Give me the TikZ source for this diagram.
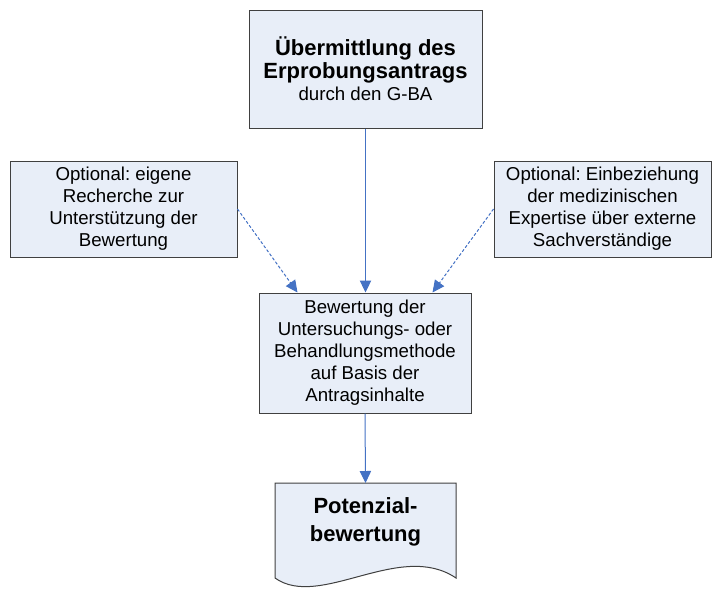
\documentclass[tikz,border=0pt]{standalone}
\usepackage{fontspec}
\setmainfont{Liberation Sans}
\usetikzlibrary{arrows.meta}
\frenchspacing

\definecolor{boxfill}{RGB}{232,238,248}
\definecolor{boxline}{RGB}{64,64,64}
\definecolor{arrowblue}{RGB}{68,114,196}

\begin{document}
\begin{tikzpicture}[x=0.75pt,y=0.75pt,yscale=-1,xscale=1,
	box/.style={draw=boxline, fill=boxfill, line width=0.75pt, align=center, inner sep=0pt, font=\fontsize{14}{16.5}\selectfont},
	flow/.style={draw=arrowblue, line width=0.75pt, -{Triangle[length=9pt,width=8.5pt]}},
	optflow/.style={flow, dash pattern=on 2.25pt off 1.5pt}]
\useasboundingbox (0,0) rectangle (712,589);

%Shape: Rectangle [top]
	\node [box, minimum width=174.75pt, minimum height=88.5pt] (antrag) at (365.5,69) {{\fontsize{16.5}{20}\selectfont\bfseries Übermittlung des}\\[1pt]{\fontsize{16.5}{20}\selectfont\bfseries Erprobungsantrags}\\durch den G-BA};
%Shape: Rectangle [left]
	\node [box, minimum width=170.25pt, minimum height=72pt] (recherche) at (123.5,209) {Optional: eigene\\Recherche zur\\Unterstützung der\\Bewertung};
%Shape: Rectangle [right]
	\node [box, minimum width=162.75pt, minimum height=72pt] (experten) at (602.5,209) {Optional: Einbeziehung\\der medizinischen\\Expertise über externe\\Sachverständige};
%Shape: Rectangle [middle]
	\node [box, minimum width=159pt, minimum height=90pt] (bewertung) at (365,353) {Bewertung der\\Untersuchungs- oder\\Behandlungsmethode\\auf Basis der\\Antragsinhalte};
%Shape: Document [bottom]
	\draw [draw=boxline, fill=boxfill, line width=0.75pt] (275,483) -- (456,483) -- (456,578) .. controls (400,540) and (320,610) .. (275,578) -- cycle ;
	\coordinate (pottop) at (365.5,483);
% Text Node
	\node [align=center, inner sep=0pt, font=\fontsize{16.5}{21.5}\selectfont\bfseries] (potenzial) at (365.5,522) {Potenzial-\\bewertung};

%Straight Lines
	\draw [flow] (antrag.south) -- (antrag.south |- bewertung.north) ;
	\draw [flow] (bewertung.south) -- (pottop) ;
%Dashed Lines
	\draw [optflow] (recherche.east) -- ([xshift=29.25pt]bewertung.north west) ;
	\draw [optflow] (experten.west) -- ([xshift=-29.25pt]bewertung.north east) ;

\end{tikzpicture}
\end{document}
